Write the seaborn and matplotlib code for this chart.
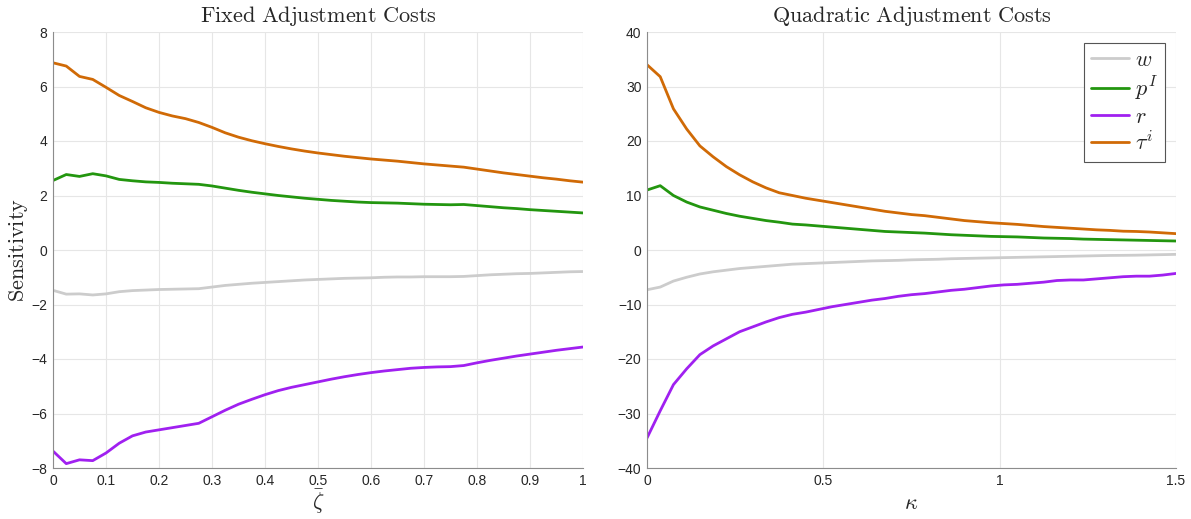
import numpy as np
import pandas as pd
import matplotlib
matplotlib.use("Agg")
import matplotlib.pyplot as plt
import seaborn as sns

# ---------------- data ----------------
xi_bar = [0.000, 0.025, 0.050, 0.075, 0.100, 0.125, 0.150, 0.175, 0.200, 0.225,
          0.250, 0.275, 0.300, 0.325, 0.350, 0.375, 0.400, 0.425, 0.450, 0.475,
          0.500, 0.525, 0.550, 0.575, 0.600, 0.625, 0.650, 0.675, 0.700, 0.725,
          0.750, 0.775, 0.800, 0.825, 0.850, 0.875, 0.900, 0.925, 0.950, 0.975, 1.000]

fixed_w = [-1.48, -1.62, -1.61, -1.65, -1.61, -1.53, -1.49, -1.47, -1.45, -1.44,
           -1.43, -1.42, -1.36, -1.30, -1.26, -1.22, -1.19, -1.16, -1.13, -1.10,
           -1.08, -1.06, -1.04, -1.03, -1.02, -1.00, -0.99, -0.99, -0.98, -0.98,
           -0.98, -0.97, -0.94, -0.91, -0.89, -0.87, -0.86, -0.84, -0.82, -0.80, -0.79]
fixed_pI = [2.55, 2.77, 2.70, 2.80, 2.72, 2.59, 2.54, 2.50, 2.48, 2.45,
            2.43, 2.41, 2.35, 2.27, 2.19, 2.12, 2.06, 2.00, 1.95, 1.90,
            1.86, 1.82, 1.79, 1.76, 1.74, 1.73, 1.72, 1.70, 1.68, 1.67,
            1.66, 1.67, 1.63, 1.59, 1.55, 1.52, 1.48, 1.45, 1.42, 1.39, 1.36]
fixed_r = [-7.38, -7.84, -7.70, -7.73, -7.45, -7.09, -6.82, -6.68, -6.60, -6.52,
           -6.44, -6.36, -6.12, -5.88, -5.66, -5.48, -5.31, -5.16, -5.04, -4.94,
           -4.84, -4.74, -4.65, -4.57, -4.50, -4.44, -4.39, -4.34, -4.31, -4.29,
           -4.28, -4.24, -4.14, -4.05, -3.97, -3.89, -3.82, -3.75, -3.68, -3.62, -3.56]
fixed_tau = [6.87, 6.75, 6.37, 6.26, 5.97, 5.67, 5.45, 5.22, 5.05, 4.92,
             4.82, 4.68, 4.50, 4.30, 4.14, 4.01, 3.90, 3.80, 3.71, 3.63,
             3.56, 3.50, 3.44, 3.39, 3.34, 3.30, 3.26, 3.21, 3.16, 3.12,
             3.08, 3.04, 2.97, 2.90, 2.83, 2.77, 2.71, 2.65, 2.60, 2.54, 2.49]

kappa = [0.0000, 0.0375, 0.0750, 0.1125, 0.1500, 0.1875, 0.2250, 0.2625, 0.3000, 0.3375,
         0.3750, 0.4125, 0.4500, 0.4875, 0.5250, 0.5625, 0.6000, 0.6375, 0.6750, 0.7125,
         0.7500, 0.7875, 0.8250, 0.8625, 0.9000, 0.9375, 0.9750, 1.0125, 1.0500, 1.0875,
         1.1250, 1.1625, 1.2000, 1.2375, 1.2750, 1.3125, 1.3500, 1.3875, 1.4250, 1.4625, 1.5000]

quad_w = [-7.3, -6.8, -5.7, -5.0, -4.4, -4.0, -3.7, -3.4, -3.2, -3.0,
          -2.8, -2.6, -2.5, -2.4, -2.3, -2.2, -2.1, -2.0, -1.95, -1.9,
          -1.8, -1.75, -1.7, -1.6, -1.55, -1.5, -1.45, -1.4, -1.35, -1.3,
          -1.25, -1.2, -1.15, -1.1, -1.05, -1.0, -0.98, -0.95, -0.9, -0.85, -0.8]
quad_pI = [11.0, 11.8, 10.0, 8.8, 7.9, 7.3, 6.7, 6.2, 5.8, 5.4,
           5.1, 4.75, 4.6, 4.4, 4.2, 4.0, 3.8, 3.6, 3.4, 3.3,
           3.2, 3.1, 2.95, 2.8, 2.7, 2.6, 2.5, 2.45, 2.4, 2.3,
           2.2, 2.15, 2.1, 2.0, 1.95, 1.9, 1.85, 1.8, 1.75, 1.7, 1.65]
quad_r = [-34.5, -29.5, -24.7, -21.8, -19.2, -17.6, -16.3, -15.0, -14.1, -13.2,
          -12.4, -11.8, -11.4, -10.9, -10.4, -10.0, -9.6, -9.2, -8.9, -8.5,
          -8.2, -8.0, -7.7, -7.4, -7.2, -6.9, -6.6, -6.4, -6.3, -6.1,
          -5.9, -5.6, -5.5, -5.5, -5.3, -5.1, -4.9, -4.8, -4.8, -4.6, -4.3]
quad_tau = [34.0, 31.8, 25.9, 22.2, 19.1, 17.1, 15.3, 13.8, 12.5, 11.4,
            10.5, 10.0, 9.5, 9.1, 8.7, 8.3, 7.9, 7.5, 7.1, 6.8,
            6.5, 6.3, 6.0, 5.7, 5.4, 5.2, 5.0, 4.85, 4.7, 4.5,
            4.3, 4.15, 4.0, 3.85, 3.7, 3.6, 3.45, 3.4, 3.3, 3.15, 3.0]

series_labels = [r"$w$", r"$p^I$", r"$r$", r"$\tau^i$"]
left_xticks = [0, 0.1, 0.2, 0.3, 0.4, 0.5, 0.6, 0.7, 0.8, 0.9, 1]
left_xticklabels = ["0", "0.1", "0.2", "0.3", "0.4", "0.5", "0.6", "0.7", "0.8", "0.9", "1"]
left_yticks = [-8, -6, -4, -2, 0, 2, 4, 6, 8]
right_xticks = [0, 0.5, 1, 1.5]
right_xticklabels = ["0", "0.5", "1", "1.5"]
right_yticks = [-40, -30, -20, -10, 0, 10, 20, 30, 40]

# ---------------- style ----------------
sns.set_style("whitegrid")
plt.rcParams["font.family"] = ["Liberation Sans", "DejaVu Sans"]
plt.rcParams["mathtext.fontset"] = "cm"

colors = ["#cccccc", "#23960f", "#a020f0", "#d06a06"]
palette = dict(zip(series_labels, colors))


def long_df(x, ys):
    frames = []
    for lab, y in zip(series_labels, ys):
        frames.append(pd.DataFrame({"x": x, "y": y, "series": lab}))
    return pd.concat(frames, ignore_index=True)


fig = plt.figure(figsize=(11.91, 5.19), dpi=100)
ax1 = fig.add_axes([53 / 1191, 1 - 468 / 519, (583 - 53) / 1191, (468 - 32) / 519])
ax2 = fig.add_axes([647 / 1191, 1 - 468 / 519, (1176 - 647) / 1191, (468 - 32) / 519])

df1 = long_df(xi_bar, [fixed_w, fixed_pI, fixed_r, fixed_tau])
df2 = long_df(kappa, [quad_w, quad_pI, quad_r, quad_tau])

sns.lineplot(data=df1, x="x", y="y", hue="series", palette=palette, ax=ax1,
             linewidth=2.0, legend=False, sort=False)
sns.lineplot(data=df2, x="x", y="y", hue="series", palette=palette, ax=ax2,
             linewidth=2.0, legend=True, sort=False)

tick_color = "#262626"
for ax, xt, xtl, yt, xlim, ylim in [
    (ax1, left_xticks, left_xticklabels, left_yticks, (0, 1), (-8, 8)),
    (ax2, right_xticks, right_xticklabels, right_yticks, (0, 1.5), (-40, 40)),
]:
    ax.set_xlim(*xlim)
    ax.set_ylim(*ylim)
    ax.set_xticks(xt)
    ax.set_xticklabels(xtl)
    ax.set_yticks(yt)
    ax.grid(True, color="#e6e6e6", linewidth=0.8)
    for s in ["top", "right"]:
        ax.spines[s].set_visible(False)
    for s in ["left", "bottom"]:
        ax.spines[s].set_visible(True)
        ax.spines[s].set_color("#8c8c8c")
        ax.spines[s].set_linewidth(0.8)
    ax.tick_params(axis="both", direction="in", length=4, width=0.8,
                   color="#8c8c8c", labelsize=10, labelcolor=tick_color, pad=4)
    ax.set_facecolor("white")

ax1.set_title(r"$\mathrm{Fixed\ Adjustment\ Costs}$", fontsize=16, pad=7)
ax2.set_title(r"$\mathrm{Quadratic\ Adjustment\ Costs}$", fontsize=16, pad=7)
ax1.set_ylabel(r"$\mathrm{Sensitivity}$", fontsize=16, labelpad=1)
ax1.set_xlabel(r"$\bar{\zeta}$", fontsize=16, labelpad=0)
ax2.set_xlabel(r"$\kappa$", fontsize=16, labelpad=4)
ax2.set_ylabel("")

leg = ax2.legend(loc="upper right", fontsize=16, frameon=True, fancybox=False,
                 edgecolor="#555555", framealpha=1, handlelength=1.75,
                 handletextpad=0.25, borderpad=0.3, labelspacing=0.18,
                 borderaxespad=0.0, bbox_to_anchor=(0.979, 0.975))
leg.get_frame().set_linewidth(0.8)
for line in leg.get_lines():
    line.set_linewidth(2.0)

fig.savefig("out.png", dpi=100)
